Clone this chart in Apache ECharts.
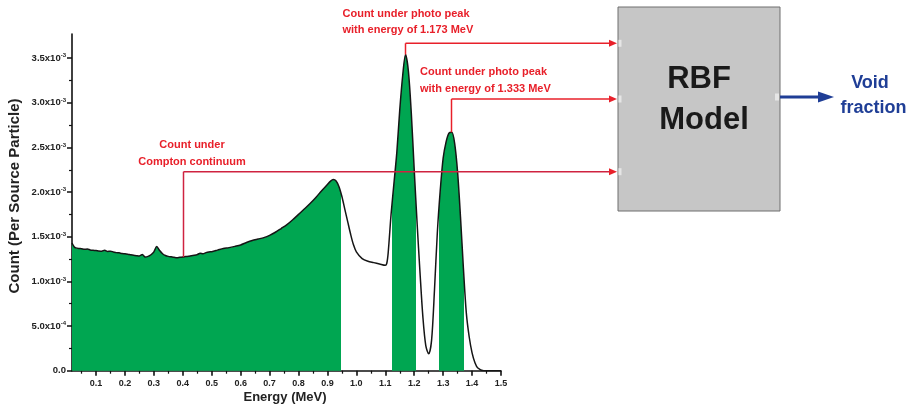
<!DOCTYPE html>
<html>
<head>
<meta charset="utf-8">
<script src="https://cdn.jsdelivr.net/npm/echarts@6/dist/echarts.min.js"></script>
<style>
html,body{margin:0;padding:0;background:#fff;}
#chart{width:912px;height:417px;}
</style>
</head>
<body>
<div id="chart"></div>
<script>
// ---- data (counts in units of 1e-3 per source particle) ----
const energy = [0.017,0.025,0.03,0.04,0.05,0.06,0.07,0.08,0.09,0.10,0.11,0.12,0.13,0.14,0.15,0.16,0.17,0.18,0.19,0.20,
  0.21,0.22,0.23,0.24,0.25,0.26,0.27,0.28,0.29,0.30,0.31,0.32,0.33,0.34,0.35,0.36,0.37,0.38,0.39,0.40,
  0.41,0.42,0.43,0.44,0.45,0.46,0.47,0.48,0.49,0.50,0.52,0.54,0.56,0.58,0.60,0.62,0.64,0.66,0.68,0.70,
  0.72,0.74,0.76,0.78,0.80,0.82,0.84,0.86,0.88,0.90,0.91,0.92,0.93,0.94,0.95,0.96,0.97,0.98,0.99,1.00,
  1.02,1.04,1.06,1.08,1.10,1.105,1.11,1.12,1.13,1.14,1.15,1.16,1.17,1.18,1.19,1.20,1.21,1.22,1.23,1.24,
  1.25,1.26,1.27,1.28,1.29,1.30,1.31,1.32,1.33,1.34,1.35,1.36,1.37,1.38,1.39,1.40,1.41,1.42,1.44,1.46,1.50];
const count = [1.43,1.385,1.375,1.368,1.366,1.36,1.362,1.352,1.348,1.345,1.34,1.338,1.35,1.335,1.338,1.33,1.322,1.32,1.312,1.31,
  1.305,1.298,1.292,1.288,1.285,1.30,1.272,1.28,1.298,1.33,1.39,1.345,1.31,1.29,1.28,1.275,1.27,1.266,1.27,1.272,
  1.278,1.282,1.288,1.292,1.30,1.315,1.31,1.322,1.33,1.333,1.35,1.368,1.378,1.392,1.408,1.435,1.458,1.474,1.49,1.515,
  1.55,1.592,1.635,1.69,1.75,1.81,1.872,1.94,2.015,2.085,2.12,2.14,2.125,2.06,1.95,1.81,1.67,1.53,1.41,1.33,
  1.255,1.225,1.21,1.195,1.18,1.20,1.32,1.75,2.10,2.45,2.92,3.30,3.54,3.35,2.88,2.25,1.65,1.10,0.60,0.28,
  0.19,0.34,0.90,1.55,2.02,2.38,2.56,2.66,2.67,2.54,2.22,1.72,1.15,0.65,0.38,0.20,0.09,0.03,0.0,0.0,0.0];

const xTickValues = [0.1,0.2,0.3,0.4,0.5,0.6,0.7,0.8,0.9,1.0,1.1,1.2,1.3,1.4,1.5];
const xMinorTickValues = [0.05,0.15,0.25,0.35,0.45,0.55,0.65,0.75,0.85,0.95,1.05,1.15,1.25,1.35,1.45];
const yTickValues = [0,0.5,1.0,1.5,2.0,2.5,3.0,3.5];
const yMinorTickValues = [0.25,0.75,1.25,1.75,2.25,2.75,3.25];
const yTickLabels = ['0.0','5.0x10^-4','1.0x10^-3','1.5x10^-3','2.0x10^-3','2.5x10^-3','3.0x10^-3','3.5x10^-3'];

// shaded energy windows (MeV)
const shadeWindows = [[0.0,0.947],[1.124,1.207],[1.287,1.371]];

// annotations
const annotEnergies = [0.40, 1.167, 1.327];
const annotTexts = [['Count under','Compton continuum'],
  ['Count under photo peak','with energy of 1.173 MeV'],
  ['Count under photo peak','with energy of 1.333 MeV']];

const GREEN = '#00a651';
const RED = '#e8202a';
const CRIMSON = '#cf2340';
const AXIS = '#111';

const chart = echarts.init(document.getElementById('chart'));
const seriesData = energy.map((e,i)=>[e,count[i]]);

const pieces = [];
let prev = 0;
shadeWindows.forEach(w=>{
  if (w[0] > prev) pieces.push({gte:prev, lt:w[0], color:'rgba(255,255,255,0)'});
  pieces.push({gte:w[0], lt:w[1], color:GREEN});
  prev = w[1];
});
pieces.push({gte:prev, lte:2, color:'rgba(255,255,255,0)'});

const lblFont = {fontFamily:'Arial, Liberation Sans, sans-serif', fontWeight:'bold', color:'#222'};

const option = {
  animation:false,
  backgroundColor:'#fff',
  grid:{left:72, right:411, top:34, bottom:46.3, containLabel:false},
  xAxis:[{
    type:'value', min:0.017, max:1.5, position:'bottom',
    axisLine:{onZero:false, lineStyle:{color:AXIS, width:1.6}},
    axisTick:{customValues:xTickValues, length:5, lineStyle:{color:AXIS, width:1.6}},
    axisLabel:Object.assign({customValues:xTickValues, margin:8, fontSize:9, formatter:v=>v.toFixed(1)}, lblFont),
    splitLine:{show:false}
  },{
    type:'value', min:0.017, max:1.5, position:'bottom',
    axisLine:{show:false},
    axisTick:{customValues:xMinorTickValues, length:3, lineStyle:{color:AXIS, width:1.2}},
    axisLabel:{show:false}, splitLine:{show:false}
  }],
  yAxis:[{
    type:'value', min:0, max:3.77, position:'left',
    axisLine:{onZero:false, lineStyle:{color:AXIS, width:1.6}},
    axisTick:{customValues:yTickValues, length:5, lineStyle:{color:AXIS, width:1.5}},
    axisLabel:Object.assign({customValues:yTickValues, margin:6, fontSize:9.5,
      formatter:v=>{
        const i = Math.round(v/0.5);
        const parts = yTickLabels[i].split('^');
        return parts.length>1 ? '{m|'+parts[0]+'}{s|'+parts[1]+'}' : '{m|'+parts[0]+'}';
      },
      rich:{m:Object.assign({fontSize:9.5},lblFont), s:Object.assign({fontSize:6, padding:[0,0,5,0]},lblFont)}
    }, lblFont),
    splitLine:{show:false}
  },{
    type:'value', min:0, max:3.77, position:'left',
    axisLine:{show:false},
    axisTick:{customValues:yMinorTickValues, length:3, lineStyle:{color:AXIS, width:1.2}},
    axisLabel:{show:false}, splitLine:{show:false}
  }],
  visualMap:{show:false, type:'piecewise', dimension:0, seriesIndex:0, pieces:pieces},
  series:[{
    type:'line', data:seriesData, xAxisIndex:0, yAxisIndex:0,
    showSymbol:false, symbol:'none', smooth:0.3,
    lineStyle:{color:'#151515', width:1.5},
    areaStyle:{opacity:1},
    z:2
  }],
  graphic:[]
};
chart.setOption(option);

function valueAt(e){
  let best=0, bd=1e9;
  energy.forEach((x,i)=>{const d=Math.abs(x-e); if(d<bd){bd=d;best=i;}});
  return count[best];
}
const px = (e,v)=>chart.convertToPixel({seriesIndex:0},[e,v]);

const g = [];
const textFont = 'bold 11px Arial, "Liberation Sans", sans-serif';
const boxLeft = 618, boxRight = 780, boxTop = 7, boxBottom = 211;
const lineYs = [171.7, 43.3, 99];
const arrowTip = 617;
const colors = [CRIMSON, RED, RED];

annotEnergies.forEach((e,i)=>{
  const p = px(e, valueAt(e));
  const x = Math.round(p[0])+0.5;
  const yTop = lineYs[i];
  g.push({type:'line', shape:{x1:x, y1:p[1], x2:x, y2:yTop}, style:{stroke:colors[i], lineWidth:1.5}, z:10});
  g.push({type:'line', shape:{x1:x, y1:yTop, x2:arrowTip-6, y2:yTop}, style:{stroke:colors[i], lineWidth:1.5}, z:10});
  g.push({type:'polygon', shape:{points:[[arrowTip-8,yTop-3.5],[arrowTip,yTop],[arrowTip-8,yTop+3.5]]}, style:{fill:RED}, z:11});
});

// annotation texts
g.push({type:'text', x:192, y:145, style:{text:annotTexts[0][0], font:textFont, fill:RED, align:'center', verticalAlign:'middle'}, z:12});
g.push({type:'text', x:192, y:161.7, style:{text:annotTexts[0][1], font:textFont, fill:RED, align:'center', verticalAlign:'middle'}, z:12});
g.push({type:'text', x:342.5, y:13.5, style:{text:annotTexts[1][0], font:textFont, fill:RED, align:'left', verticalAlign:'middle'}, z:12});
g.push({type:'text', x:342.5, y:30, style:{text:annotTexts[1][1], font:textFont, fill:RED, align:'left', verticalAlign:'middle'}, z:12});
g.push({type:'text', x:420, y:72, style:{text:annotTexts[2][0], font:textFont, fill:RED, align:'left', verticalAlign:'middle'}, z:12});
g.push({type:'text', x:420, y:88.5, style:{text:annotTexts[2][1], font:textFont, fill:RED, align:'left', verticalAlign:'middle'}, z:12});

// RBF model box
g.push({type:'rect', shape:{x:boxLeft, y:boxTop, width:boxRight-boxLeft, height:boxBottom-boxTop},
  style:{fill:'#c6c6c6', stroke:'#6e6e6e', lineWidth:1}, z:5});
lineYs.forEach(y=>{
  g.push({type:'rect', shape:{x:boxLeft+0.5, y:y-3.5, width:3, height:7}, style:{fill:'#e6e6e6'}, z:6});
});
g.push({type:'rect', shape:{x:boxRight-5, y:93.5, width:4, height:7}, style:{fill:'#e6e6e6'}, z:6});
g.push({type:'text', x:699, y:79.5, style:{text:'RBF', font:'bold 31px Arial, "Liberation Sans", sans-serif', fill:'#1a1a1a', align:'center', verticalAlign:'middle'}, z:7});
g.push({type:'text', x:704, y:120, style:{text:'Model', font:'bold 31px Arial, "Liberation Sans", sans-serif', fill:'#1a1a1a', align:'center', verticalAlign:'middle'}, z:7});

// output arrow
const BLUE = '#1f3e96';
g.push({type:'line', shape:{x1:boxRight, y1:97, x2:822, y2:97}, style:{stroke:BLUE, lineWidth:3}, z:8});
g.push({type:'polygon', shape:{points:[[818,91.5],[834,97],[818,102.5]]}, style:{fill:BLUE}, z:8});
g.push({type:'text', x:870, y:83, style:{text:'Void', font:'bold 18px Arial, "Liberation Sans", sans-serif', fill:BLUE, align:'center', verticalAlign:'middle'}, z:8});
g.push({type:'text', x:873.5, y:108.5, style:{text:'fraction', font:'bold 18px Arial, "Liberation Sans", sans-serif', fill:BLUE, align:'center', verticalAlign:'middle'}, z:8});

// axis titles
g.push({type:'text', x:15, y:196, rotation:Math.PI/2, style:{text:'Count (Per Source Particle)', font:'bold 15px Arial, "Liberation Sans", sans-serif', fill:'#222', align:'center', verticalAlign:'middle'}, z:8});
g.push({type:'text', x:285, y:397, style:{text:'Energy (MeV)', font:'bold 13px Arial, "Liberation Sans", sans-serif', fill:'#222', align:'center', verticalAlign:'middle'}, z:8});

chart.setOption({graphic:g});
</script>
</body>
</html>
